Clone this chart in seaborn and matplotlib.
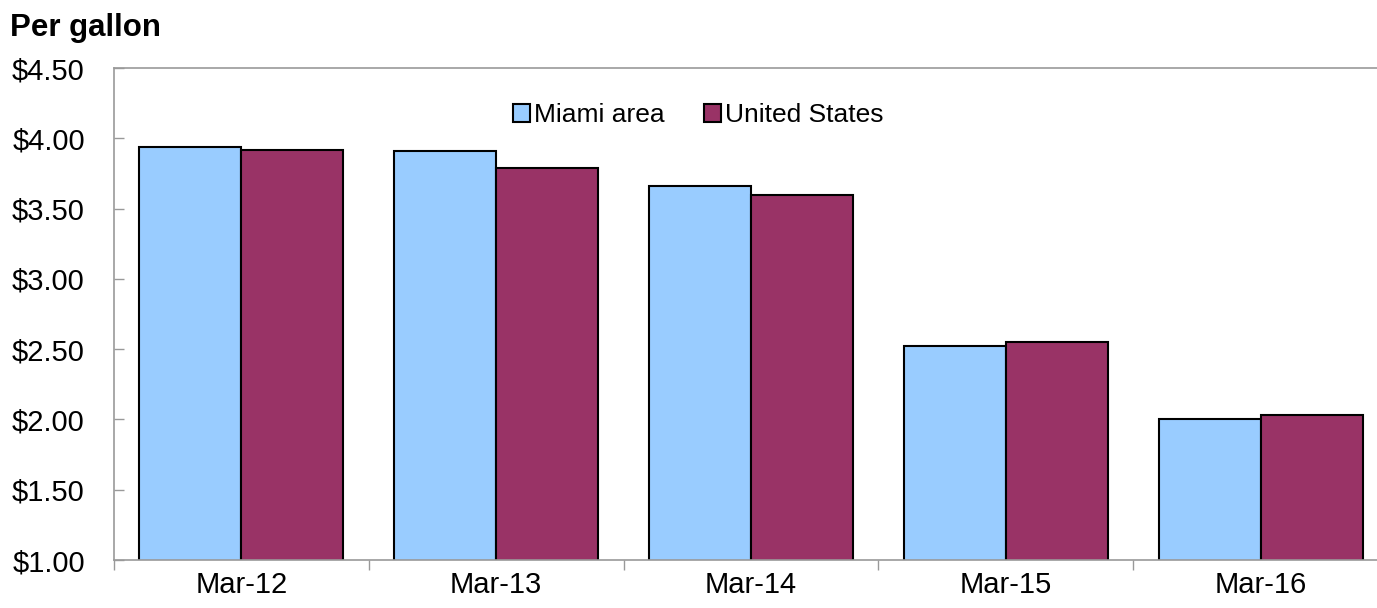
import pandas as pd
import matplotlib.pyplot as plt
import seaborn as sns
from matplotlib.ticker import FixedLocator

# --- DATA ---
months = ['Mar-12', 'Mar-13', 'Mar-14', 'Mar-15', 'Mar-16']
miami = [3.94, 3.91, 3.66, 2.52, 2.00]
us = [3.92, 3.79, 3.60, 2.55, 2.03]
series = ['Miami area', 'United States']
colors = {'Miami area': '#99CCFF', 'United States': '#993366'}

df = pd.DataFrame({
    'Month': months * 2,
    'Price': miami + us,
    'Area': [series[0]] * len(months) + [series[1]] * len(months),
})

sns.set_theme(style="white")
plt.rcParams['font.family'] = ['Liberation Sans', 'DejaVu Sans']

fig = plt.figure(figsize=(13.77, 6.08), dpi=100)
ax = fig.add_axes([114 / 1377, 1 - 560 / 608, 1274 / 1377, 492 / 608])

sns.barplot(data=df, x='Month', y='Price', hue='Area', order=months, hue_order=series,
            palette=colors, saturation=1, width=0.8, edgecolor='black', linewidth=1.5, ax=ax)

ax.set_ylim(1.0, 4.5)
ax.set_xlim(-0.5, len(months) - 0.5)
yt = [1.0 + 0.5 * i for i in range(8)]
ax.set_yticks(yt)
ax.set_yticklabels([f'${v:.2f}' for v in yt])
ax.set_xlabel('')
ax.set_ylabel('')

for s in ['left', 'bottom', 'top', 'right']:
    ax.spines[s].set_color('#999999')
    ax.spines[s].set_linewidth(1.2)

ax.tick_params(axis='y', direction='in', length=7, width=1, color='#999999',
               labelsize=21, pad=21, left=True, labelcolor='black')
ax.tick_params(axis='x', which='major', length=0, labelsize=21, pad=8, labelcolor='black')
ax.xaxis.set_minor_locator(FixedLocator([i - 0.5 for i in range(len(months) + 1)]))
ax.tick_params(axis='x', which='minor', direction='out', length=7, width=1,
               color='#999999', bottom=True)

leg = ax.legend(loc='center', bbox_to_anchor=(698 / 1377, 1 - 115 / 608),
                bbox_transform=fig.transFigure, ncol=2, frameon=False, fontsize=19,
                handlelength=0.65, handleheight=0.65, handletextpad=0.15, columnspacing=1.5)
for t in leg.get_texts():
    t.set_color('black')

fig.text(10 / 1377, 1 - 28 / 608, 'Per gallon', fontsize=22.5, fontweight='bold',
         ha='left', va='center', color='black')

fig.savefig('out.png', dpi=100)
